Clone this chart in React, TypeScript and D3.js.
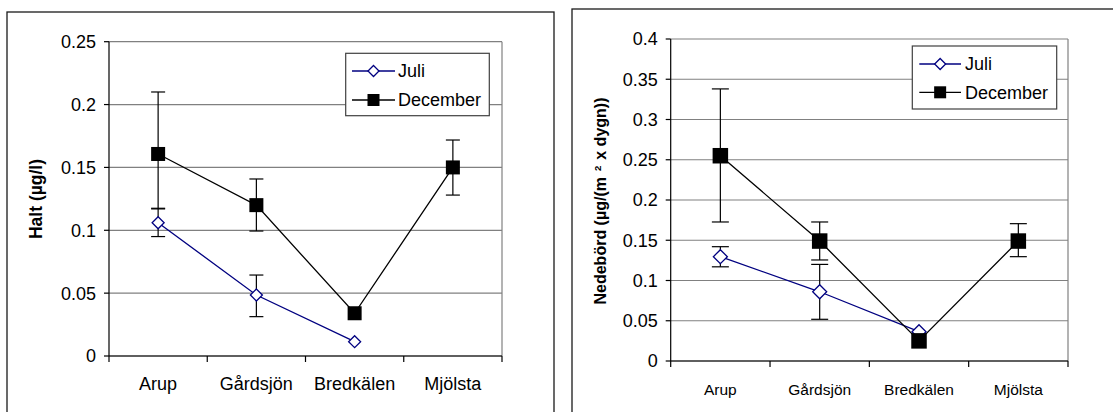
import * as d3 from "d3";

// Stations along the x axis (same for both charts)
const categories = ["Arup", "Gårdsjön", "Bredkälen", "Mjölsta"];

// Left chart: Halt (µg/l)
const haltTicks = [0, 0.05, 0.1, 0.15, 0.2, 0.25];
const haltJuli = [0.106, 0.0485, 0.0114, null];
const haltJuliErr = [[0.095, 0.1175], [0.0313, 0.0644], null, null];
const haltDec = [0.1607, 0.12, 0.034, 0.15];
const haltDecErr = [[0.117, 0.21], [0.0994, 0.1408], null, [0.128, 0.1718]];

// Right chart: Nedebörd (µg/(m² x dygn))
const nedTicks = [0, 0.05, 0.1, 0.15, 0.2, 0.25, 0.3, 0.35, 0.4];
const nedJuli = [0.1296, 0.086, 0.0364, null];
const nedJuliErr = [[0.117, 0.142], [0.0518, 0.12], null, null];
const nedDec = [0.255, 0.149, 0.025, 0.149];
const nedDecErr = [[0.1727, 0.338], [0.1255, 0.1727], null, [0.1296, 0.1706]];

const seriesNames = ["Juli", "December"];

const FONT = '"Liberation Sans", Arial, Helvetica, sans-serif';
const BLUE = "#000080";

type Err = number[] | null;

interface PanelProps {
  frame: [number, number, number, number];
  plot: { left: number; right: number; top: number; bottom: number };
  ticks: number[];
  juli: (number | null)[];
  juliErr: Err[];
  dec: (number | null)[];
  decErr: Err[];
  title: React.ReactNode;
  titleX: number;
  titleY: number;
  titleSize: number;
  legend: { x: number; y: number; w: number; h: number; rows: [number, number]; l0: number; l1: number; tx: number };
  xFont: number;
  yFont: number;
  diamond: number;
  square: number;
  cap: number;
}

function Panel(p: PanelProps) {
  const { plot } = p;
  const x = d3
    .scaleBand<string>()
    .domain(categories)
    .range([plot.left, plot.right])
    .padding(0);
  const y = d3
    .scaleLinear()
    .domain([0, d3.max(p.ticks)!])
    .range([plot.bottom, plot.top]);
  const cx = (i: number) => x(categories[i])! + x.bandwidth() / 2;

  const line = d3
    .line<[number, number | null]>()
    .defined((d) => d[1] !== null)
    .x((d) => cx(d[0]))
    .y((d) => y(d[1] as number));

  const diamondPath = (r: number) => `M0,${-r}L${r},0L0,${r}L${-r},0Z`;

  const errBars = (errs: Err[], key: string) =>
    errs.map((e, i) =>
      e ? (
        <g key={key + i} stroke="#000" strokeWidth={1.2}>
          <line x1={cx(i)} x2={cx(i)} y1={y(e[0])} y2={y(e[1])} />
          <line x1={cx(i) - p.cap / 2} x2={cx(i) + p.cap / 2} y1={y(e[0])} y2={y(e[0])} />
          <line x1={cx(i) - p.cap / 2} x2={cx(i) + p.cap / 2} y1={y(e[1])} y2={y(e[1])} />
        </g>
      ) : null
    );

  const lg = p.legend;
  const [fx, fy, fw, fh] = p.frame;

  return (
    <g fontFamily={FONT}>
      <rect x={fx} y={fy} width={fw} height={fh} fill="#fff" stroke="#1a1a1a" strokeWidth={1.3} />
      {/* grid */}
      {p.ticks.map((t) => (
        <line key={"g" + t} x1={plot.left} x2={plot.right} y1={y(t)} y2={y(t)} stroke="#808080" strokeWidth={1.2} />
      ))}
      <line x1={plot.right} x2={plot.right} y1={plot.top} y2={plot.bottom} stroke="#808080" strokeWidth={1.2} />
      {/* y axis */}
      <line x1={plot.left} x2={plot.left} y1={plot.top} y2={plot.bottom} stroke="#000" strokeWidth={1.2} />
      {p.ticks.map((t) => (
        <g key={"yt" + t}>
          <line x1={plot.left - 5} x2={plot.left} y1={y(t)} y2={y(t)} stroke="#000" strokeWidth={1.2} />
          <text x={plot.left - 13} y={y(t)} dy="0.36em" textAnchor="end" fontSize={p.yFont}>
            {String(+t.toFixed(2))}
          </text>
        </g>
      ))}
      {/* x axis */}
      <line x1={plot.left} x2={plot.right} y1={plot.bottom} y2={plot.bottom} stroke="#000" strokeWidth={1.2} />
      {[...categories.map((c) => x(c)!), plot.right].map((v, i) => (
        <line key={"xt" + i} x1={v} x2={v} y1={plot.bottom} y2={plot.bottom + 6} stroke="#000" strokeWidth={1.2} />
      ))}
      {categories.map((c, i) => (
        <text key={c} x={cx(i)} y={plot.bottom + 34} textAnchor="middle" fontSize={p.xFont}>
          {c}
        </text>
      ))}
      {/* y title */}
      <text
        transform={`translate(${p.titleX},${p.titleY}) rotate(-90)`}
        textAnchor="middle"
        dy="0.36em"
        fontWeight="bold"
        fontSize={p.titleSize}
      >
        {p.title}
      </text>
      {/* Juli */}
      {errBars(p.juliErr, "je")}
      <path d={line(p.juli.map((v, i) => [i, v]))!} fill="none" stroke={BLUE} strokeWidth={1.3} />
      {p.juli.map((v, i) =>
        v === null ? null : (
          <path key={"jm" + i} d={diamondPath(p.diamond)} transform={`translate(${cx(i)},${y(v)})`} fill="#fff" stroke={BLUE} strokeWidth={1.3} />
        )
      )}
      {/* December */}
      {errBars(p.decErr, "de")}
      <path d={line(p.dec.map((v, i) => [i, v]))!} fill="none" stroke="#000" strokeWidth={1.3} />
      {p.dec.map((v, i) =>
        v === null ? null : (
          <rect key={"dm" + i} x={cx(i) - p.square / 2} y={y(v) - p.square / 2} width={p.square} height={p.square} fill="#000" />
        )
      )}
      {/* legend */}
      <rect x={lg.x} y={lg.y} width={lg.w} height={lg.h} fill="#fff" stroke="#404040" strokeWidth={1.2} />
      <line x1={lg.l0} x2={lg.l1} y1={lg.rows[0]} y2={lg.rows[0]} stroke={BLUE} strokeWidth={1.3} />
      <path d={diamondPath(5.5)} transform={`translate(${(lg.l0 + lg.l1) / 2},${lg.rows[0]})`} fill="#fff" stroke={BLUE} strokeWidth={1.3} />
      <text x={lg.tx} y={lg.rows[0]} dy="0.36em" fontSize={18}>
        {seriesNames[0]}
      </text>
      <line x1={lg.l0} x2={lg.l1} y1={lg.rows[1]} y2={lg.rows[1]} stroke="#000" strokeWidth={1.3} />
      <rect x={(lg.l0 + lg.l1) / 2 - 6} y={lg.rows[1] - 6} width={12} height={12} fill="#000" />
      <text x={lg.tx} y={lg.rows[1]} dy="0.36em" fontSize={18}>
        {seriesNames[1]}
      </text>
    </g>
  );
}

export default function App() {
  return (
    <svg width={1113} height={412} style={{ position: "absolute", left: 0, top: 0, background: "#fff" }}>
      <rect width={1113} height={412} fill="#fff" />
      <Panel
        frame={[7, 12, 547, 420]}
        plot={{ left: 109, right: 502, top: 41.7, bottom: 356 }}
        ticks={haltTicks}
        juli={haltJuli}
        juliErr={haltJuliErr}
        dec={haltDec}
        decErr={haltDecErr}
        title="Halt (µg/l)"
        titleX={36}
        titleY={199}
        titleSize={17.5}
        legend={{ x: 345.7, y: 53.3, w: 143.6, h: 62.4, rows: [71, 100], l0: 352, l1: 395, tx: 398 }}
        xFont={18}
        yFont={18}
        diamond={6}
        square={14}
        cap={14}
      />
      <Panel
        frame={[572, 9, 560, 420]}
        plot={{ left: 670.7, right: 1068, top: 39, bottom: 361 }}
        ticks={nedTicks}
        juli={nedJuli}
        juliErr={nedJuliErr}
        dec={nedDec}
        decErr={nedDecErr}
        title={
          <>
            Nedebörd (µg/(m
            <tspan fontSize="0.6em" dx="6" dy="-0.6em">2</tspan>
            <tspan dx="6" dy="0.36em">x dygn))</tspan>
          </>
        }
        titleX={600.5}
        titleY={201}
        titleSize={16}
        legend={{ x: 912.3, y: 46, w: 144.4, h: 63, rows: [64, 92.3], l0: 919.3, l1: 961, tx: 965 }}
        xFont={15.5}
        yFont={18}
        diamond={7}
        square={15.5}
        cap={17}
      />
    </svg>
  );
}
